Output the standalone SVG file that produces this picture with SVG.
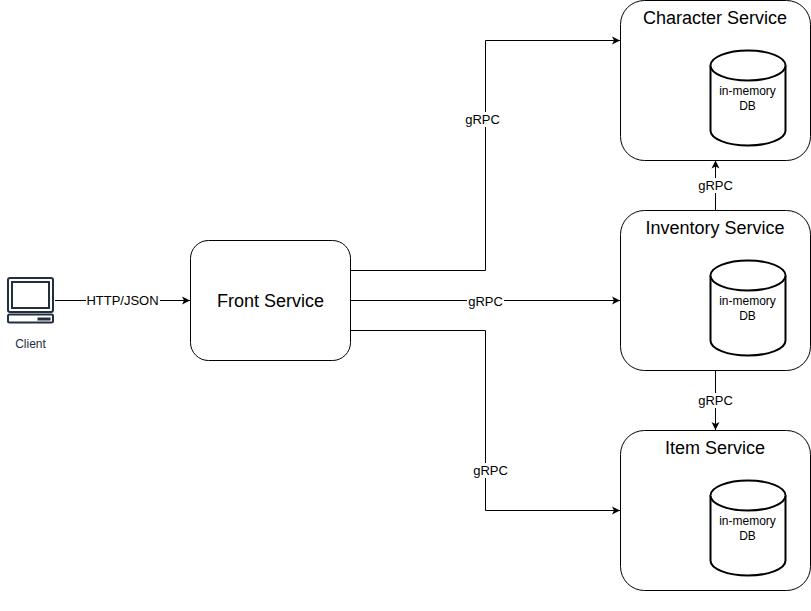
<svg xmlns="http://www.w3.org/2000/svg" width="811" height="611" viewBox="0 0 811 611">
<defs>
<style>
text{font-family:"Liberation Sans",Arial,sans-serif;text-anchor:middle;fill:#000}
.box{fill:#fff;stroke:#000;stroke-width:1}
.title{font-size:18px}
.lab{font-size:13px}
.db{font-size:12px}
.conn{fill:none;stroke:#000;stroke-width:1;marker-end:url(#arr)}
.bg{fill:#fff}
.cyl{fill:#fff;stroke:#000;stroke-width:2}
</style>
<marker id="arr" markerUnits="userSpaceOnUse" markerWidth="10" markerHeight="10" refX="8" refY="4.5" orient="auto">
<path d="M0,0.5 L8,4.5 L0,8.5 L2,4.5 Z" fill="#000"/>
</marker>
<g id="cyl">
<path class="cyl" d="M0,15.500 A37.500,15 0 0 1 75,15.500 L75,80.500 A37.500,15 0 0 1 0,80.500 Z"/>
<path class="cyl" d="M0,15.500 A37.500,15 0 0 0 75,15.500" fill="none"/>
</g>
</defs>
<rect width="811" height="611" fill="#fff"/>
<g id="client">
<g fill="none" stroke="#232f3e">
<rect x="8" y="278" width="45" height="34" rx="2" stroke-width="2"/>
<rect x="12" y="282" width="37" height="26" stroke-width="2"/>
<rect x="8" y="314.500" width="45" height="8" rx="1.500" stroke-width="2"/>
</g>
<rect x="37.500" y="317.500" width="13" height="3" fill="#232f3e"/>
<text x="30.500" y="348" font-size="12" style="fill:#232f3e">Client</text>
</g>
<g id="front-service">
<rect class="box" x="190.500" y="240.500" width="160" height="120" rx="18"/>
<text class="title" x="270.500" y="307">Front Service</text>
</g>
<g id="character-service">
<rect class="box" x="620.500" y="0.500" width="190" height="160" rx="24"/>
<text class="title" x="715" y="24">Character Service</text>
<use href="#cyl" x="710.500" y="50"/>
<text class="db" x="747.500" y="95">in-memory</text>
<text class="db" x="747.500" y="110">DB</text>
</g>
<g id="inventory-service">
<rect class="box" x="620.500" y="210.500" width="190" height="160" rx="24"/>
<text class="title" x="715" y="234">Inventory Service</text>
<use href="#cyl" x="710.500" y="260"/>
<text class="db" x="747.500" y="305">in-memory</text>
<text class="db" x="747.500" y="320">DB</text>
</g>
<g id="item-service">
<rect class="box" x="620.500" y="430.500" width="190" height="160" rx="24"/>
<text class="title" x="715" y="454">Item Service</text>
<use href="#cyl" x="710.500" y="480"/>
<text class="db" x="747.500" y="525">in-memory</text>
<text class="db" x="747.500" y="540">DB</text>
</g>
<g id="connectors">
<path class="conn" d="M55,300.500 H190"/>
<path class="conn" d="M350.500,270.500 H485.500 V40.500 H620"/>
<path class="conn" d="M350.500,300.500 H620"/>
<path class="conn" d="M350.500,330.500 H485.500 V510.500 H620"/>
<path class="conn" d="M715.500,210 V160.500"/>
<path class="conn" d="M715.500,370.500 V430"/>
<rect class="bg" x="86" y="293" width="74" height="15"/>
<text class="lab" x="122.500" y="305">HTTP/JSON</text>
<rect class="bg" x="464" y="112" width="37" height="15"/>
<text class="lab" x="482.500" y="124">gRPC</text>
<rect class="bg" x="467" y="294" width="37" height="14"/>
<text class="lab" x="485.500" y="306">gRPC</text>
<rect class="bg" x="472" y="463" width="37" height="15"/>
<text class="lab" x="490.500" y="475">gRPC</text>
<rect class="bg" x="697" y="178" width="37" height="15"/>
<text class="lab" x="715.500" y="190">gRPC</text>
<rect class="bg" x="697" y="393" width="37" height="15"/>
<text class="lab" x="715.500" y="405">gRPC</text>
</g>
</svg>
